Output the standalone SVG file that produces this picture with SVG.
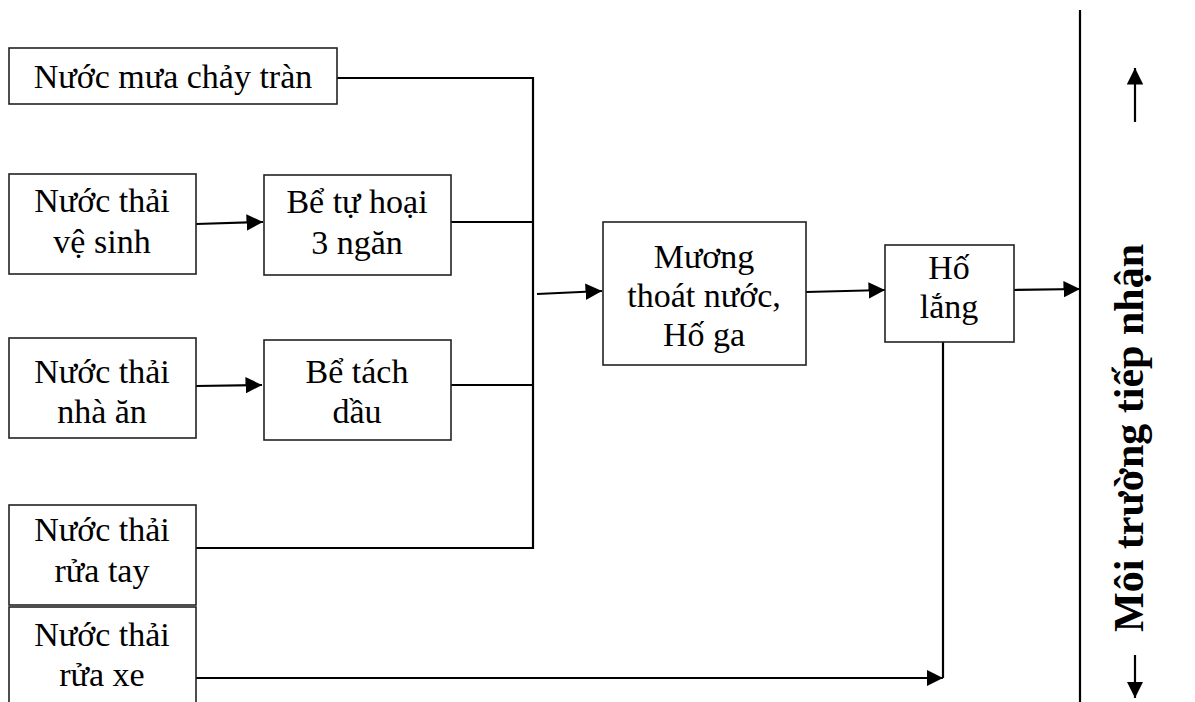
<svg xmlns="http://www.w3.org/2000/svg" width="1195" height="702" viewBox="0 0 1195 702">
<style>
.box{fill:#fff;stroke:#222;stroke-width:1.6}
.t{font-family:"Liberation Serif","Times New Roman",serif;font-size:34px;fill:#000;text-anchor:middle}
.tb{font-family:"Liberation Serif","Times New Roman",serif;font-size:42px;font-weight:bold;fill:#000;text-anchor:middle}
.c{fill:none;stroke:#000;stroke-width:2.2}
</style>
<defs>
<marker id="ah" viewBox="0 0 10 10" refX="10" refY="5" markerWidth="7.5" markerHeight="7.5" orient="auto" markerUnits="strokeWidth">
<path d="M0,0 L10,5 L0,10 z" fill="#000"/>
</marker>
</defs>
<rect width="1195" height="702" fill="#fff"/>
<g id="connectors">
<path class="c" d="M337,78 H533 V548 H196"/>
<path class="c" d="M451,222 H533"/>
<path class="c" d="M451,385 H533"/>
<path class="c" d="M196,224 L263,222" marker-end="url(#ah)"/>
<path class="c" d="M196,386 L262,385" marker-end="url(#ah)"/>
<path class="c" d="M537,294 L602,291" marker-end="url(#ah)"/>
<path class="c" d="M806,292 L885,290" marker-end="url(#ah)"/>
<path class="c" d="M1014,290 L1080,289" marker-end="url(#ah)"/>
<path class="c" d="M943,342 V678"/>
<path class="c" d="M196,678 H943" marker-end="url(#ah)"/>
<path class="c" d="M1080,10 V702"/>
<path class="c" d="M1135,122 V68" marker-end="url(#ah)"/>
<path class="c" d="M1135,655 V698" marker-end="url(#ah)"/>
</g>
<g id="n-nuoc-mua">
<rect class="box" x="9" y="48" width="328" height="56"/>
<text class="t" x="173" y="88">Nước mưa chảy tràn</text>
</g>
<g id="n-ve-sinh">
<rect class="box" x="9" y="174" width="187" height="100"/>
<text class="t" x="102" y="212">Nước thải</text>
<text class="t" x="102" y="253">vệ sinh</text>
</g>
<g id="n-tu-hoai">
<rect class="box" x="264" y="175" width="187" height="100"/>
<text class="t" x="357" y="213">Bể tự hoại</text>
<text class="t" x="357" y="254">3 ngăn</text>
</g>
<g id="n-nha-an">
<rect class="box" x="9" y="338" width="187" height="100"/>
<text class="t" x="102" y="383">Nước thải</text>
<text class="t" x="102" y="423">nhà ăn</text>
</g>
<g id="n-tach-dau">
<rect class="box" x="264" y="340" width="187" height="100"/>
<text class="t" x="357" y="383">Bể tách</text>
<text class="t" x="357" y="423">dầu</text>
</g>
<g id="n-rua-tay">
<rect class="box" x="9" y="505" width="187" height="100"/>
<text class="t" x="102" y="541">Nước thải</text>
<text class="t" x="102" y="582">rửa tay</text>
</g>
<g id="n-rua-xe">
<rect class="box" x="9" y="607" width="187" height="110"/>
<text class="t" x="102" y="646">Nước thải</text>
<text class="t" x="102" y="686">rửa xe</text>
</g>
<g id="n-muong">
<rect class="box" x="603" y="222" width="203" height="143"/>
<text class="t" x="704" y="268">Mương</text>
<text class="t" x="704" y="307">thoát nước,</text>
<text class="t" x="704" y="346">Hố ga</text>
</g>
<g id="n-ho-lang">
<rect class="box" x="885" y="245" width="129" height="97"/>
<text class="t" x="949" y="279">Hố</text>
<text class="t" x="949" y="318">lắng</text>
</g>
<g id="n-moi-truong">
<text class="tb" transform="translate(1143,438) rotate(-90)">Môi trường tiếp nhận</text>
</g>
</svg>
